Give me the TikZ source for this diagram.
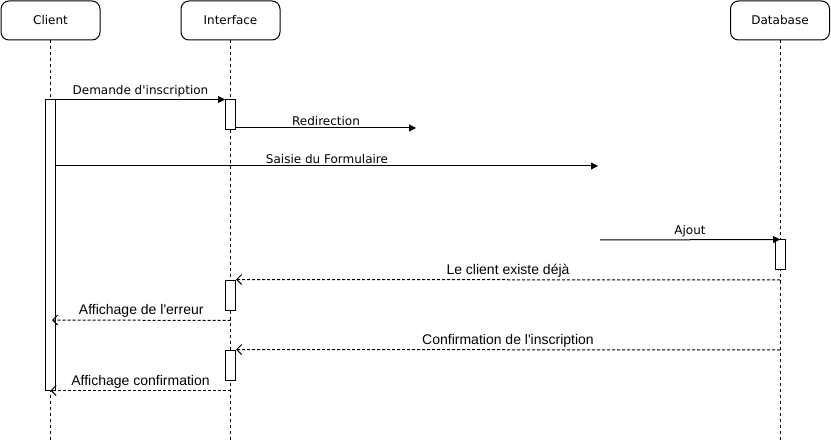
\documentclass[tikz,border=0pt]{standalone}
\usepackage{fontspec}
\setmainfont{DejaVu Sans}
\newfontfamily\verdanafont{DejaVu Sans}
\newfontfamily\arialfont{Liberation Sans}
\usetikzlibrary{arrows.meta}

\begin{document}
\begin{tikzpicture}[x=1pt, y=-1pt, line width=1pt,
		head/.style={draw, rounded corners=8pt, minimum width=99pt, minimum height=39pt, font=\verdanafont\fontsize{12}{14}\selectfont},
		act/.style={draw, fill=white, minimum width=10pt, inner sep=0pt},
		life/.style={dash pattern=on 3pt off 3pt, line width=0.8pt},
		sync/.style={-{Triangle[length=7pt,width=7pt]}},
		reply/.style={dash pattern=on 3pt off 2pt, -{Straight Barb[length=5pt,width=10pt]}},
		lbl/.style={above, midway, inner sep=2pt, font=\verdanafont\fontsize{12}{14}\selectfont},
		lbla/.style={lbl, font=\arialfont\fontsize{14}{16}\selectfont}]
		\useasboundingbox (0,0) rectangle (831,441);
		
		\node[head] (client) at (50.5,20.5) {Client};
		\node[head] (iface) at (230.5,20.5) {Interface};
		\node[head] (db) at (780,20.5) {Database};
		
		\coordinate (clientend) at (50.5,441);
		\coordinate (ifaceend) at (230.5,441);
		\coordinate (dbend) at (780,441);
		\draw[life] (client) -- (clientend);
		\draw[life] (iface) -- (ifaceend);
		\draw[life] (db) -- (dbend);
		
		\node[act, minimum height=290pt] (ca) at (50.5,245) {};
		\node[act, minimum height=30pt] (ia1) at (230.5,115) {};
		\node[act, minimum height=30pt] (ia2) at (230.5,295) {};
		\node[act, minimum height=30pt] (ia3) at (230.5,365) {};
		\node[act, minimum height=30pt] (da) at (780,255) {};
		
		\coordinate (redir) at (416,128);
		\coordinate (saisie) at (598,166);
		\coordinate (ajout) at (600,240);
		
		\draw[sync] (ca.north east) to node[lbl] {Demande d'inscription} (ia1.north west);
		\draw[sync] (ia1.south east |- redir) to node[lbl] {Redirection} (redir);
		\draw[sync] (ca.east |- saisie) to node[lbl] {Saisie du Formulaire} (saisie);
		\draw[sync] (ajout) to node[lbl] {Ajout} (da.north);
		\draw[reply] (780,280) to node[lbla] {Le client existe déjà} (ia2.north east);
		\draw[reply] (ia2.south) ++(0,10) to node[lbla] {Affichage de l'erreur} (52,320);
		\draw[reply] (780,350) to node[lbla] {Confirmation de l'inscription} (ia3.north east);
		\draw[reply] (ia3.south) ++(0,10) to node[lbla] {Affichage confirmation} (ca.south);
		
\end{tikzpicture}
\end{document}
